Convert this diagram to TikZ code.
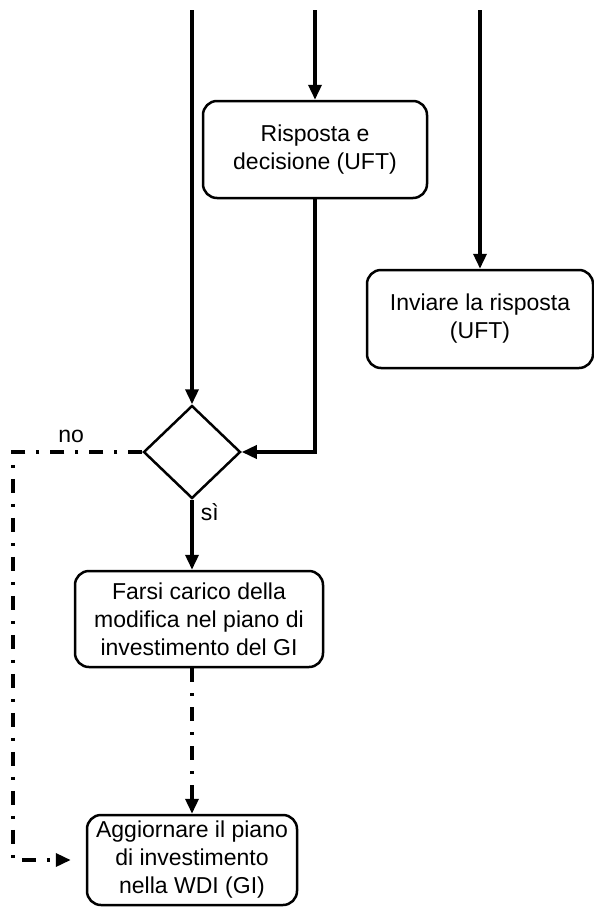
\documentclass[tikz,border=0pt]{standalone}
\usepackage{fontspec}
\setmainfont{Liberation Sans}
\usetikzlibrary{arrows.meta,shapes.geometric}
\tikzset{
  taskbox/.style={draw, line width=2.5pt, rounded corners=14pt, align=center, inner sep=2pt,
    font=\fontsize{23}{28}\selectfont},
  choice/.style={draw, diamond, line width=2.5pt, inner sep=0pt},
  flow/.style={line width=3.5pt, -{Triangle[length=15pt,width=13pt]}},
  flowdd/.style={flow, dash pattern=on 14pt off 11pt on 3pt off 11pt},
  lbl/.style={font=\fontsize{23}{28}\selectfont, inner sep=2pt}
}
\begin{document}
\begin{tikzpicture}[x=1pt, y=-1pt]
  \useasboundingbox (0,0) rectangle (594,908);
  % boxes
  \node[taskbox, minimum width=224pt, minimum height=97pt] (risposta) at (315,149.5) {Risposta e\\decisione (UFT)};
  \node[taskbox, minimum width=226pt, minimum height=98pt] (inviare) at (480,319) {Inviare la risposta\\(UFT)};
  \node[choice, minimum width=97pt, minimum height=93pt] (decide) at (192,452) {};
  \node[taskbox, minimum width=248pt, minimum height=96pt] (carico) at (199,619) {Farsi carico della\\modifica nel piano di\\investimento del GI};
  \node[taskbox, minimum width=210pt, minimum height=90pt] (aggiorna) at (192,860) {Aggiornare il piano\\di investimento\\nella WDI (GI)};
  % incoming lines
  \coordinate (inA) at (192,10);
  \coordinate (inB) at (315,10);
  \coordinate (inC) at (480,10);
  \coordinate (noCorner) at (13,452);
  \draw[flow] (inA) -- (decide.north);
  \draw[flow] (inB) -- (risposta.north);
  \draw[flow] (inC) -- (inviare.north);
  \draw[flow] (risposta.south) |- (decide.east);
  \draw[flow] (decide.south) -- node[lbl, pos=0, anchor=north west, xshift=5pt] {sì} (decide.south |- carico.north);
  \draw[flowdd] (decide |- carico.south) -- (aggiorna.north);
  \draw[flowdd, shorten >=15pt] (decide.west) -- node[lbl, pos=0.55, above=6pt] {no} (noCorner) |- (aggiorna.west);
\end{tikzpicture}
\end{document}
